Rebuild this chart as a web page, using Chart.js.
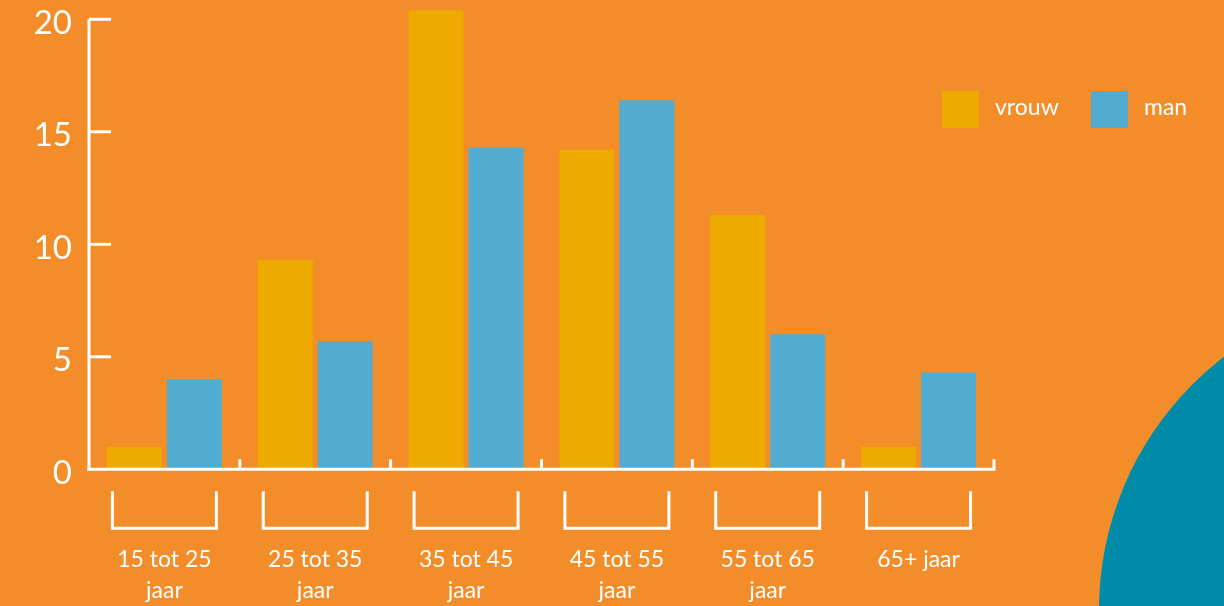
<!DOCTYPE html>
<html lang="nl">

<head>
    <meta charset="UTF-8">
    <meta name="viewport" content="width=device-width, initial-scale=1.0">
    <script src="https://cdn.jsdelivr.net/npm/chart.js"></script>
    <title>Leeftijd vrouw / man</title>
    <style>
        html, body { margin: 0; padding: 0; background: #f28d2a; }
        .grafico { position: relative; width: 1224px; height: 606px; overflow: hidden; }
    </style>
</head>

<body>
    <div class="grafico">
        <canvas id="myChart"></canvas>
    </div>
</body>
<script>

    // data
    var categorieen = [['15 tot 25', 'jaar'], ['25 tot 35', 'jaar'], ['35 tot 45', 'jaar'], ['45 tot 55', 'jaar'], ['55 tot 65', 'jaar'], '65+ jaar'];
    var vrouw = [1.0, 9.3, 20.4, 14.2, 11.3, 1.0];
    var man = [4.0, 5.7, 14.3, 16.4, 6.0, 4.3];
    var yTicks = [0, 5, 10, 15, 20];

    var oranje = '#f28d2a';
    var geel = '#efaa00';
    var blauw = '#52acd2';
    var petrol = '#008ba9';
    var wit = '#ffffff';
    var lettertype = 'Lato, "Open Sans", sans-serif';

    // achtergrond met de grote cirkel rechtsonder
    var achtergrond = {
        id: 'achtergrond',
        beforeDraw(chart) {
            const c = chart.ctx;
            c.save();
            c.fillStyle = oranje;
            c.fillRect(0, 0, chart.width, chart.height);
            c.fillStyle = petrol;
            c.beginPath();
            c.arc(1418, 610, 319, 0, Math.PI * 2);
            c.fill();
            c.restore();
        }
    };

    // assen, streepjes, haken onder de groepen, y-labels en de legenda
    var assen = {
        id: 'assen',
        afterDatasetsDraw(chart) {
            const c = chart.ctx;
            const area = chart.chartArea;
            const x = chart.scales.x;
            const y = chart.scales.y;
            const breedte = (area.right - area.left) / categorieen.length;
            const nul = y.getPixelForValue(0);

            c.save();
            c.strokeStyle = wit;
            c.lineWidth = 3;
            c.lineCap = 'butt';

            // y-as
            c.beginPath();
            c.moveTo(area.left, y.getPixelForValue(20));
            c.lineTo(area.left, nul + 1.5);
            c.stroke();

            // x-as
            c.beginPath();
            c.moveTo(area.left - 1.5, nul);
            c.lineTo(area.right + 1.5, nul);
            c.stroke();

            // streepjes y-as naar binnen + labels (iets onder het streepje, zoals het origineel)
            c.font = '400 33px ' + lettertype;
            c.textAlign = 'right';
            c.textBaseline = 'middle';
            c.fillStyle = wit;
            y.ticks.forEach(function (t) {
                const py = y.getPixelForValue(t.value);
                c.fillText(t.label, area.left - 17, py + 4);
                if (t.value === 0) return;
                c.beginPath();
                c.moveTo(area.left, py);
                c.lineTo(area.left + 22, py);
                c.stroke();
            });

            // kleine streepjes tussen de groepen
            for (let i = 0; i < categorieen.length; i++) {
                const px = x.getPixelForTick(i) + breedte / 2;
                c.beginPath();
                c.moveTo(px, nul);
                c.lineTo(px, nul - 10);
                c.stroke();
            }

            // haken onder elke groep
            for (let i = 0; i < categorieen.length; i++) {
                const px = x.getPixelForTick(i);
                c.beginPath();
                c.moveTo(px - 52, nul + 22);
                c.lineTo(px - 52, nul + 59);
                c.lineTo(px + 52, nul + 59);
                c.lineTo(px + 52, nul + 22);
                c.stroke();
            }

            // legenda
            c.font = '400 23px ' + lettertype;
            c.textBaseline = 'middle';
            c.textAlign = 'left';
            const posities = [942, 1091];
            chart.data.datasets.forEach(function (ds, i) {
                const lx = posities[i];
                c.fillStyle = ds.backgroundColor;
                c.fillRect(lx, 91, 37, 37);
                c.fillStyle = wit;
                c.fillText(ds.label, lx + 53, 108);
            });
            c.restore();
        }
    };

    const ctx = document.getElementById('myChart');

    new Chart(ctx, {
        type: 'bar',
        data: {
            labels: categorieen,
            datasets: [{
                label: 'vrouw',
                data: vrouw,
                backgroundColor: geel,
                borderWidth: 0,
                clip: false
            }, {
                label: 'man',
                data: man,
                backgroundColor: blauw,
                borderWidth: 0,
                clip: false
            }]
        },
        options: {
            responsive: true,
            maintainAspectRatio: false,
            animation: false,
            categoryPercentage: 0.7956,
            barPercentage: 0.9167,
            layout: {
                padding: { top: 19.3, right: 230, bottom: 0, left: 0 }
            },
            plugins: {
                legend: { display: false },
                tooltip: { enabled: false }
            },
            scales: {
                x: {
                    grid: { display: false, drawTicks: false, tickLength: 0 },
                    border: { display: false },
                    ticks: {
                        color: wit,
                        padding: 75,
                        maxRotation: 0,
                        autoSkip: false,
                        font: { family: lettertype, size: 23, weight: 400, lineHeight: 1.35 }
                    },
                    afterFit: function (s) {
                        s.height = 136.7;
                        s.paddingLeft = 0;
                        s.paddingRight = 0;
                    }
                },
                y: {
                    min: 0,
                    max: 20,
                    afterBuildTicks: function (s) {
                        s.ticks = yTicks.map(function (v) { return { value: v }; });
                    },
                    grid: { display: false, drawTicks: false, tickLength: 0 },
                    border: { display: false },
                    ticks: { display: false },
                    afterFit: function (s) {
                        s.width = 89;
                        s.paddingTop = 0;
                        s.paddingBottom = 0;
                    }
                }
            }
        },
        plugins: [achtergrond, assen]
    });

</script>

</html>
